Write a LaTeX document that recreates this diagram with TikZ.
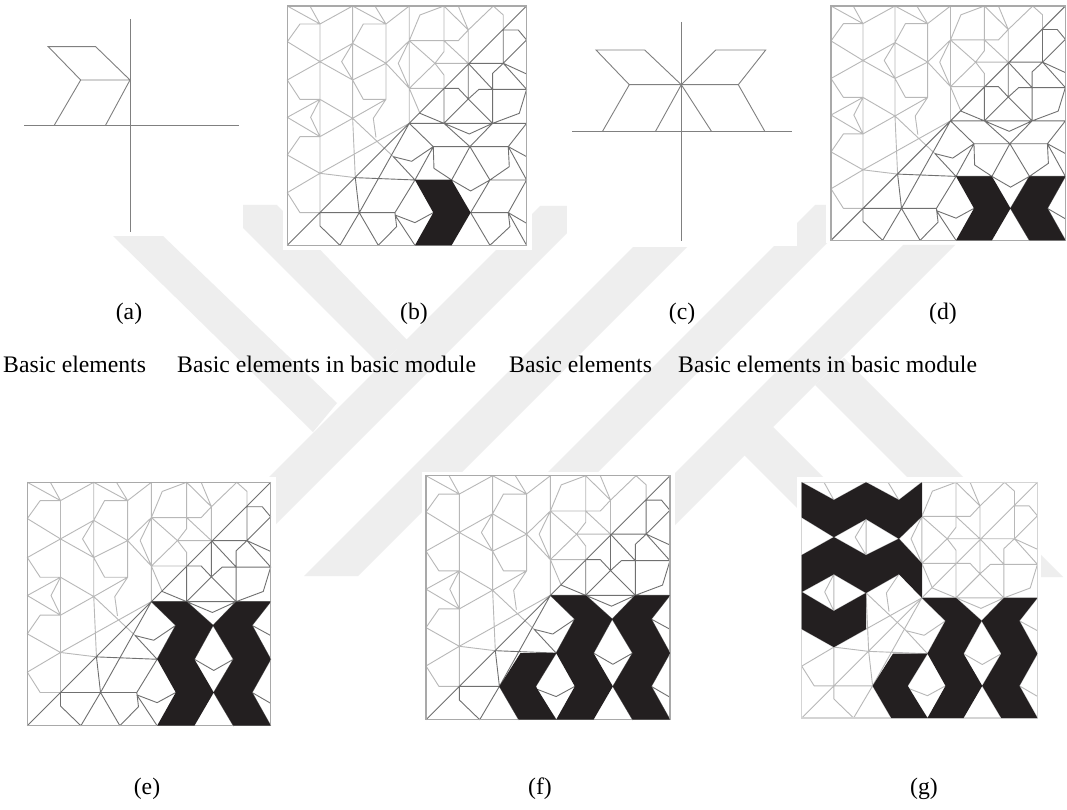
\documentclass[tikz,border=0pt]{standalone}
\usepackage{fontspec}
\setmainfont{Liberation Serif}
\definecolor{wm}{HTML}{EEEEEE}
\definecolor{lt}{HTML}{B8B8B8}
\definecolor{dk}{HTML}{707070}
\definecolor{ink}{HTML}{231F20}
\tikzset{
  mark band/.style={fill=wm,draw=none},
  clear box/.style={fill=white,draw=none},
  uline/.style={line width=0.9pt,line join=round},
  frame line/.style={line width=1.2pt},
  black part/.style={fill=ink,draw=none,even odd rule},
  axis line/.style={draw=black!50,line width=0.9pt},
  cap text/.style={inner sep=0pt,text=black,font=\fontsize{23.7}{28}\selectfont},
}
\newcommand{\uplines}{
 (22,18)--(120,72) (90,18)--(120,72)--(218,18)--(318,72)--(388,18) (285,18)--(318,72)
 (22,125)--(60,72)--(120,72) (22,125)--(120,185)
 (120,72)--(120,638) (218,18)--(218,355)--(226,533) (318,72)--(250,72)--(218,130) (318,72)--(318,298)
 (120,185)--(218,130)--(318,190)--(218,240)--(120,185)
 (218,130)--(185,185)--(218,240)--(250,298)--(318,298)--(218,355)--(120,298)--(22,352)--(120,410)--(218,355)
 (120,185)--(22,240)--(60,298)--(120,298) (120,298)--(92,352)--(120,410)
 (120,410)--(60,410)--(22,465)--(120,520) (318,298)--(280,355)--(288,412)
 (120,520)--(388,370) (218,355)--(340,470)
 (120,520)--(22,578)--(60,638)--(120,638) (120,520)--(226,533)
 (388,18)--(388,370) (388,122)--(318,190)--(388,265) (388,122)--(355,190)--(388,265)--(420,340)
 (388,122)--(420,45)--(492,18)--(492,155)--(465,190)--(388,265)
 (388,122)--(465,190)--(492,225)--(492,265) (388,122)--(535,122)--(565,90)
 (465,190)--(565,190) (492,18)--(565,90) (535,18)--(565,90) (565,90)--(565,190)
 (565,90)--(640,18)--(670,45)--(670,90) (388,265)--(492,265) (492,122)--(565,190)
}
\newcommand{\lowlines}{
 (22,736)--(740,18)
 (388,370)--(238,638) (226,533)--(238,638) (226,533)--(405,540) (340,470)--(405,540)
 (340,470)--(395,484)--(460,440)--(388,370)
 (120,638)--(345,638) (120,638)--(120,678)--(180,736)--(238,638)--(295,736)--(350,680)--(345,638)--(405,540)
 (345,645)--(405,668)--(460,638) (345,645)--(405,736) (405,540)--(460,440)
 (405,540)--(515,540)--(462,505)--(460,440)--(685,440)
 (515,540)--(570,440)--(630,540) (515,540)--(572,573)--(630,540)--(740,540)
 (630,540)--(572,638)--(685,638)--(740,736) (572,638)--(630,736)--(690,680)--(685,638)--(740,670)
 (740,540)--(685,638) (685,440)--(688,500)--(630,540) (685,440)--(740,540) (685,440)--(740,470) (685,440)--(740,370)
 (388,370)--(740,370) (492,370)--(570,440)--(638,370) (492,370)--(568,402)--(638,370)
 (420,340)--(492,370)--(565,297)--(638,370)--(718,340)--(740,268)--(597,268)--(565,297)--(535,265)--(492,265)--(492,370)
 (565,190)--(565,297) (565,190)--(638,268)--(638,370) (638,268)--(638,220)--(670,190)--(740,268)
 (670,190)--(740,222) (565,190)--(670,190)--(670,90)--(715,90)--(740,120)--(670,190)
}
\newcommand{\chevron}{(405,540)--(515,540)--(572,638)--(515,736)--(405,736)--(460,638)--cycle}
\newcommand{\cross}{(405,540)--(515,540)--(572,638)--(630,540)--(740,540)--(685,638)--(740,736)--(630,736)--(572,638)--(515,736)--(405,736)--(460,638)--cycle}
\newcommand{\tallcross}{(388,370)--(492,370)--(570,440)--(638,370)--(740,370)--(685,440)--(740,540)--(685,638)--(740,736)--(630,736)--(572,638)--(515,736)--(405,736)--(460,638)--(405,540)--(460,440)--cycle (570,440)--(630,540)--(572,638)--(515,540)--cycle}
\newcommand{\leftwing}{(300,540)--(405,540)--(345,638)--(405,736)--(295,736)--(238,638)--cycle}
\newcommand{\upperset}{
 (22,18)--(120,72)--(218,18)--(318,72)--(388,18)--(388,122)--(318,190)--(218,130)--(120,185)--(22,125)--cycle
 (120,185)--(218,240)--(318,190)--(388,265)--(388,370)--(318,298)--(218,355)--(120,298)--(22,352)--(22,240)--cycle
 (22,352)--(120,410)--(218,355)--(218,465)--(120,520)--(22,465)--cycle}
% panel: #1 left, #2 top, #3 scale, #4 colour of lower lines, #5 black path
\newcommand{\panel}[5]{
 \begin{scope}[shift={(#1,#2)},x=#3pt,y=-#3pt,shift={(-22,-18)}]
  \draw[uline,draw=lt] \uplines;
  \draw[uline,draw=#4] \lowlines;
  \draw[frame line,draw=#4!60!white] (22,18) rectangle (740,736);
  \fill[black part] #5;
 \end{scope}
}
\begin{document}
\begin{tikzpicture}[x=1pt,y=-1pt]
\useasboundingbox (0,0) rectangle (1067,810);
\fill[white] (0,0) rectangle (1067,810);
% faint background mark
\fill[mark band] (540,206)--(567,206)--(567,233)--(224,576)--(170,576)--cycle;
\fill[mark band] (113,236)--(163,236)--(337,403)--(313,432)--cycle;
\fill[mark band] (243,205)--(277,205)--(407,340)--(380,365)--(243,228)--cycle;
\fill[mark band] (633,247)--(687,247)--(358,576)--(304,576)--cycle;
\fill[mark band] (815,205)--(865,205)--(494,576)--(444,576)--cycle;
\fill[mark band] (903,245)--(955,245)--(624,576)--(572,576)--cycle;
\fill[mark band] (844,358)--(1063,577)--(1007,577)--(815,385)--cycle;
\fill[mark band] (773,427)--(923,577)--(866,577)--(742,453)--cycle;
% white backgrounds of the pasted figures
\fill[clear box] (0,0) rectangle (243,236);
\fill[clear box] (283,0) rectangle (532,250);
\fill[clear box] (567,0) rectangle (797,246);
\fill[clear box] (826,0) rectangle (1067,243);
\fill[clear box] (0,477) rectangle (276,750);
\fill[clear box] (422,472) rectangle (675,750);
\fill[clear box] (797,477) rectangle (1041,750);
% (a)
\draw[axis line] (130.7,19)--(130.7,232);
\draw[axis line] (24,125.7)--(239,125.7);
\draw[axis line] (48.3,46.7)--(95.7,46.7)--(130,80)--(80.7,80)--cycle;
\draw[axis line] (80.7,80)--(54,125.7);
\draw[axis line] (130,80)--(105.3,125.7);
% (c)
\draw[axis line] (681.3,22)--(681.3,241);
\draw[axis line] (572,131.7)--(792,131.7);
\draw[axis line] (596,50)--(644.7,50)--(681.3,84.7)--(629.3,84.7)--cycle;
\draw[axis line] (681.3,84.7)--(715.7,50)--(765.7,50)--(738.3,84.7)--cycle;
\draw[axis line] (629.3,84.7)--(602.3,131.7);
\draw[axis line] (681.3,84.7)--(655.3,131.7);
\draw[axis line] (681.3,84.7)--(711.7,131.7);
\draw[axis line] (738.3,84.7)--(765,131.7);
% panels
\panel{287.3}{6}{0.3333}{dk}{\chevron}
\panel{831}{6}{0.3264}{dk}{\cross}
\panel{27.3}{482.3}{0.339}{dk}{\tallcross}
\panel{426}{475.7}{0.3398}{dk}{\tallcross \leftwing}
\panel{801.7}{482.3}{0.3283}{lt}{\tallcross \leftwing \upperset}
% captions
\node[cap text] (capa) at (129,313.5) {(a)};
\node[cap text] (capb) at (414,313.5) {(b)};
\node[cap text] (capc) at (682,313.5) {(c)};
\node[cap text] (capd) at (943,313.5) {(d)};
\node[cap text] (cape) at (147,789) {(e)};
\node[cap text] (capf) at (540,789) {(f)};
\node[cap text] (capg) at (924,789) {(g)};
\node[cap text,anchor=west] (ta) at (3,364) {Basic elements};
\node[cap text,anchor=west] (tb) at (177,364) {Basic elements in basic module};
\node[cap text,anchor=west] (tc) at (509,364) {Basic elements};
\node[cap text,anchor=west] (td) at (678,364) {Basic elements in basic module};
\end{tikzpicture}
\end{document}
